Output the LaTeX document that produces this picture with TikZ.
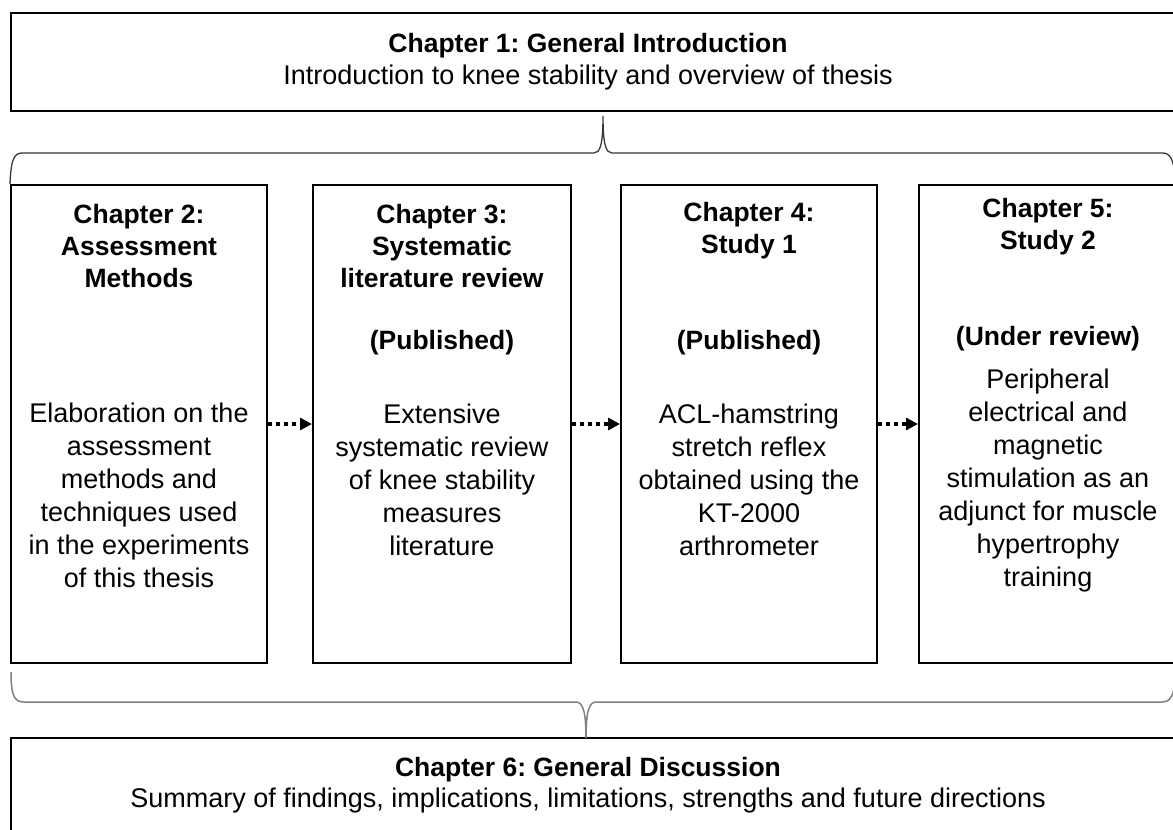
\documentclass[tikz,border=0pt]{standalone}
\usepackage{fontspec}
\setmainfont{Liberation Sans}
\usetikzlibrary{arrows.meta}
\frenchspacing

\begin{document}
\begin{tikzpicture}[x=1pt,y=1pt]
\tikzstyle{every node}+=[inner sep=0pt]
\tikzstyle{chapbox}=[draw=black,line width=2pt]
\tikzstyle{headtext}=[font=\fontsize{26.5}{32}\selectfont\bfseries,align=center]
\tikzstyle{bodytext}=[font=\fontsize{27}{33}\selectfont,align=center]
\tikzstyle{dotarrow}=[line width=3.5pt,dash pattern=on 4pt off 4pt,-{Triangle[length=12pt,width=12pt]}]
\useasboundingbox (0,0) rectangle (1173,-830);
\clip (0,0) rectangle (1173,-830);
% boxes
\node [chapbox,minimum width=1166,minimum height=98] (ch1) at (594,-62) {};
\node [chapbox,minimum width=256,minimum height=478] (ch2) at (139,-424) {};
\node [chapbox,minimum width=258,minimum height=478] (ch3) at (442,-424) {};
\node [chapbox,minimum width=256,minimum height=478] (ch4) at (749,-424) {};
\node [chapbox,minimum width=258,minimum height=478] (ch5) at (1048,-424) {};
\node [chapbox,minimum width=1166,minimum height=98] (ch6) at (594,-787) {};
% texts
\draw (588,-46) node [headtext] (ch1title) {Chapter 1: General Introduction};
\draw (588,-78) node [bodytext] (ch1sub) {Introduction to knee stability and overview of thesis};
\draw (139,-246) node [headtext] (ch2head) {Chapter 2:\\Assessment\\Methods};
\draw (139,-495) node [bodytext] (ch2body) {Elaboration on the\\assessment\\methods and\\techniques used\\in the experiments\\of this thesis};
\draw (442,-246) node [headtext] (ch3head) {Chapter 3:\\Systematic\\literature review};
\draw (442,-343) node [headtext] (ch3note) {(Published)};
\draw (442,-480) node [bodytext] (ch3body) {Extensive\\systematic review\\of knee stability\\measures\\literature};
\draw (749,-231) node [headtext] (ch4head) {Chapter 4:\\Study 1};
\draw (749,-343) node [headtext] (ch4note) {(Published)};
\draw (749,-480) node [bodytext] (ch4body) {ACL-hamstring\\stretch reflex\\obtained using the\\KT-2000\\arthrometer};
\draw (1048,-227) node [headtext] (ch5head) {Chapter 5:\\Study 2};
\draw (1048,-339) node [headtext] (ch5note) {(Under review)};
\draw (1048,-481) node [bodytext] (ch5body) {Peripheral\\electrical and\\magnetic\\stimulation as an\\adjunct for muscle\\hypertrophy\\training};
\draw (588,-770) node [headtext] (ch6title) {Chapter 6: General Discussion};
\draw (588,-801) node [bodytext] (ch6sub) {Summary of findings, implications, limitations, strengths and future directions};
% dotted arrows
\draw [dotarrow] (ch2.east) -- (ch3.west);
\draw [dotarrow] (ch3.east) -- (ch4.west);
\draw [dotarrow] (ch4.east) -- (ch5.west);
% braces
\coordinate (uptip) at (603,-116);
\coordinate (downtip) at (586,-738);
\draw [black!78,line width=1.3pt] (ch2.north west) .. controls (11,-162) and (13,-153) .. (22,-153) -- (594,-153) .. controls (600,-153) and (603,-145) .. (uptip) .. controls (603,-145) and (606,-153) .. (612,-153) -- (1163,-153) .. controls (1171,-153) and (1175,-162) .. (1175,-184);
\draw [black!50,line width=1.5pt] (11,-672) .. controls (11,-695) and (14,-702) .. (24,-702) -- (576,-702) .. controls (583,-702) and (586,-712) .. (downtip) .. controls (586,-712) and (589,-702) .. (596,-702) -- (1162,-702) .. controls (1171,-702) and (1175,-695) .. (1175,-672);
\end{tikzpicture}
\end{document}
